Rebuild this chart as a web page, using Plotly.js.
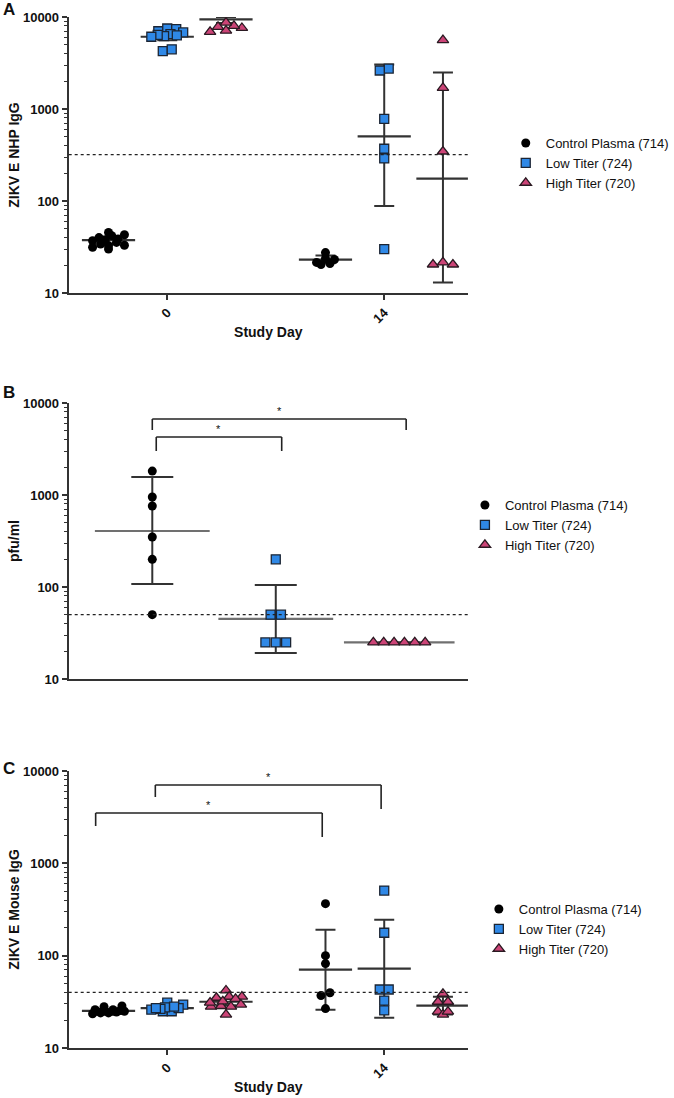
<!DOCTYPE html>
<html>
<head>
<meta charset="utf-8">
<script src="https://cdn.plot.ly/plotly-3.0.1.min.js"></script>
<style>html,body{margin:0;padding:0;background:#fff;}#chart{width:674px;height:1098px;}</style>
</head>
<body>
<div id="chart"></div>
<script>
// ---------------- DATA ----------------
const days = [0, 14];
const groupNames = ['Control Plasma (714)', 'Low Titer (724)', 'High Titer (720)'];

// Panel A: ZIKV E NHP IgG
const nhpControl_d0 = [43, 40, 38.6, 42, 45.5, 37.7, 35.5, 32.7, 34, 37, 31.4, 33, 30];
const nhpLow_d0 = [7000, 7500, 7400, 6800, 6500, 6300, 6200, 6400, 6100, 4250, 4450];
const nhpHigh_d0 = [7600, 8000, 6900, 7100, 8700, 7800];
const nhpControl_d14 = [27.5, 23.7, 23.1, 21.5, 20.9, 20.4];
const nhpLow_d14 = [2750, 2620, 780, 370, 290, 30];
const nhpHigh_d14 = [5600, 1700, 345, 21.5, 20.4, 20.4];
const nhpMean_d0 = [37.5, 6100, 9400];
const nhpLo_d0 = [34, 5600, 8600];
const nhpHi_d0 = [41, 6600, 10000];
const nhpMean_d14 = [23, 505, 175];
const nhpLo_d14 = [21, 88, 13];
const nhpHi_d14 = [25.5, 3050, 2490];
const nhpCutoff = 320;

// Panel B: pfu/ml
const pfuControl = [1820, 950, 760, 350, 200, 50];
const pfuLow = [200, 50, 50, 25, 25, 25];
const pfuHigh = [25, 25, 25, 25, 25, 25];
const pfuMean = [406, 45, 25];
const pfuLo = [108, 19.2, 25];
const pfuHi = [1570, 105, 25];
const pfuCutoff = 50;

// Panel C: ZIKV E Mouse IgG
const mouseControl_d0 = [25, 24.5, 26, 28, 25, 24, 28.5, 26, 25, 24, 23.5, 25.5, 25];
const mouseLow_d0 = [27, 29.5, 31, 25, 25, 27, 27.5, 26, 28, 26.5, 27];
const mouseHigh_d0 = [42, 35, 36, 36, 34, 29.5, 28, 31, 28, 28.5, 23, 32];
const mouseControl_d14 = [366, 100, 82, 39.7, 37, 26.7];
const mouseLow_d14 = [507, 177, 43, 43, 32.6, 25.5];
const mouseHigh_d14 = [31.7, 31.7, 38.7, 24.8, 23, 24.8];
const mouseMean_d0 = [25.3, 27, 31.7];
const mouseLo_d0 = [24, 25.5, 29];
const mouseHi_d0 = [26.5, 28.5, 34];
const mouseMean_d14 = [70.6, 72.3, 28.7];
const mouseLo_d14 = [26, 21.3, 23];
const mouseHi_d14 = [191, 245, 36];
const mouseCutoff = 40;

// significance brackets: [x left, x right, bar level, left leg end, right leg end]
const bracketsB = [[0, 2.056, 6700, 5090, 5090], [0.032, 1.048, 4270, 3000, 3000]];
const bracketsC = [[-0.77, 13.8, 7050, 5230, 3870], [-4.62, 10.0, 3510, 2540, 1930]];
const sigLabel = '*';

// ---------------- STYLE / LAYOUT HELPERS ----------------
const FONT = 'Liberation Sans, Arial, sans-serif';
const AXC = '#333333';
const xDom = [69 / 674, 470 / 674];
const dayRange = [-6.36, 19.4];
const groupRange = [-0.677, 2.556];
const pxPerDay = 218 / 14;
const pxPerGroup = 124;
const pxPerDecade = 92;
const groupOffsetDays = 3.79;

const styles = [
  {symbol: 'circle', size: 9, color: '#000000', lc: '#000000'},
  {symbol: 'square', size: 9, color: '#2F88E6', lc: '#1b2433'},
  {symbol: 'triangle-up', size: 10, color: '#CC4477', lc: '#2a1a22'}
];

// row-binned scatter spread (points with similar values share a row, centred on the group)
function swarm(values, center, pxPerUnit, d, maxW) {
  const binH = d * 0.8;
  const rows = {};
  values.forEach((v, i) => {
    const key = Math.floor(Math.log10(v) * pxPerDecade / binH);
    (rows[key] = rows[key] || []).push(i);
  });
  const out = new Array(values.length);
  Object.values(rows).forEach(r => {
    r.sort((a, b) => values[a] - values[b]);
    const sp = r.length > 1 ? Math.min(d, maxW / (r.length - 1)) : 0;
    const order = r.map((i, j) => j).sort((a, b) => (a % 2) - (b % 2));
    r.forEach((i, j) => { out[i] = center + (order[j] - (r.length - 1) / 2) * sp / pxPerUnit; });
  });
  return out;
}

const traces = [];
function addSummary(xs, mean, lo, hi, xa, ya, lineSize, cap) {
  traces.push({
    type: 'scatter', mode: 'markers', x: xs, y: mean, xaxis: xa, yaxis: ya, showlegend: false, hoverinfo: 'skip',
    marker: {symbol: 'line-ew-open', size: lineSize, color: AXC, line: {width: 2.2, color: AXC}},
    error_y: {type: 'data', symmetric: false, array: hi.map((h, i) => h - mean[i]), arrayminus: lo.map((l, i) => mean[i] - l),
              color: AXC, thickness: 2, width: cap}
  });
}
function addPoints(g, xs, ys, xa, ya, legend) {
  const s = styles[g];
  traces.push({
    type: 'scatter', mode: 'markers', x: xs, y: ys, xaxis: xa, yaxis: ya, name: groupNames[g], legend: legend,
    marker: {symbol: s.symbol, size: s.size, color: s.color, line: {width: g === 0 ? 0 : 1.3, color: s.lc}}
  });
}

const nhpD0 = [nhpControl_d0, nhpLow_d0, nhpHigh_d0];
const nhpD14 = [nhpControl_d14, nhpLow_d14, nhpHigh_d14];
const mouseD0 = [mouseControl_d0, mouseLow_d0, mouseHigh_d0];
const mouseD14 = [mouseControl_d14, mouseLow_d14, mouseHigh_d14];
const gx = (day, g) => day + (g - 1) * groupOffsetDays;

function dayPanel(d0, d14, m0, l0, h0, m14, l14, h14, xa, ya, legend) {
  const sx = [], sm = [], sl = [], sh = [];
  [0, 1, 2].forEach(g => { sx.push(gx(days[0], g)); sm.push(m0[g]); sl.push(l0[g]); sh.push(h0[g]); });
  [0, 1, 2].forEach(g => { sx.push(gx(days[1], g)); sm.push(m14[g]); sl.push(l14[g]); sh.push(h14[g]); });
  addSummary(sx, sm, sl, sh, xa, ya, 38, 10);
  [0, 1, 2].forEach(g => {
    const x0 = swarm(d0[g], gx(days[0], g), pxPerDay, styles[g].size, 32);
    const x1 = swarm(d14[g], gx(days[1], g), pxPerDay, styles[g].size, 32);
    addPoints(g, x0.concat(x1), d0[g].concat(d14[g]), xa, ya, legend);
  });
}
dayPanel(nhpD0, nhpD14, nhpMean_d0, nhpLo_d0, nhpHi_d0, nhpMean_d14, nhpLo_d14, nhpHi_d14, 'x', 'y', 'legend');

// Panel B
addSummary([0, 1, 2], pfuMean, pfuLo, pfuHi, 'x2', 'y2', [82, 82, 79], 21);
[pfuControl, pfuLow, pfuHigh].forEach((vals, g) => {
  addPoints(g, swarm(vals, g, pxPerGroup, 10.4, 60), vals, 'x2', 'y2', 'legend2');
});

// Panel C
dayPanel(mouseD0, mouseD14, mouseMean_d0, mouseLo_d0, mouseHi_d0, mouseMean_d14, mouseLo_d14, mouseHi_d14, 'x3', 'y3', 'legend3');

// ---------------- AXES ----------------
const minorVals = [];
[10, 100, 1000].forEach(b => { for (let k = 2; k <= 9; k++) minorVals.push(b * k); });
function yAxis(dom, title) {
  return {
    domain: dom, type: 'log', range: [1, 4], tickvals: [10, 100, 1000, 10000], ticktext: ['10', '100', '1000', '10000'],
    ticks: 'outside', ticklen: 5, tickwidth: 2, tickcolor: AXC, showline: true, linecolor: AXC, linewidth: 2,
    showgrid: false, zeroline: false, tickfont: {family: FONT, size: 13, weight: 'bold', color: '#111'},
    minor: {tickvals: minorVals, ticks: 'outside', ticklen: 3, tickwidth: 1, tickcolor: AXC, showgrid: false},
    title: {text: title, font: {family: FONT, size: 14, weight: 'bold', color: '#111'}, standoff: 0},
    fixedrange: true
  };
}
function xDayAxis(anchor) {
  return {
    domain: xDom, anchor: anchor, range: dayRange, tickvals: days, ticktext: days.map(String), tickangle: -45,
    ticks: 'outside', ticklen: 5, tickwidth: 2, tickcolor: AXC, showline: true, linecolor: AXC, linewidth: 2,
    showgrid: false, zeroline: false, tickfont: {family: FONT, size: 13, weight: 'bold', color: '#111'},
    title: {text: 'Study Day', font: {family: FONT, size: 14, weight: 'bold', color: '#111'}, standoff: 2},
    fixedrange: true
  };
}

const shapes = [];
const annotations = [];
function cutoff(val, xr, yr) {
  shapes.push({type: 'line', xref: xr + ' domain', yref: yr, x0: 0, x1: 1, y0: val, y1: val,
               line: {color: '#222', width: 1.3, dash: 'dot'}});
}
cutoff(nhpCutoff, 'x', 'y');
cutoff(pfuCutoff, 'x2', 'y2');
cutoff(mouseCutoff, 'x3', 'y3');

function bracket(b, xr, yr) {
  const ln = {color: '#222', width: 1.6};
  shapes.push({type: 'line', xref: xr, yref: yr, x0: b[0], x1: b[1], y0: b[2], y1: b[2], line: ln});
  shapes.push({type: 'line', xref: xr, yref: yr, x0: b[0], x1: b[0], y0: b[2], y1: b[3], line: ln});
  shapes.push({type: 'line', xref: xr, yref: yr, x0: b[1], x1: b[1], y0: b[2], y1: b[4], line: ln});
  annotations.push({xref: xr, yref: yr, x: (b[0] + b[1]) / 2, y: Math.log10(b[2]), text: sigLabel, showarrow: false,
                    yanchor: 'bottom', yshift: 0, font: {family: FONT, size: 11, color: '#111'}});
}
bracketsB.forEach(b => bracket(b, 'x2', 'y2'));
bracketsC.forEach(b => bracket(b, 'x3', 'y3'));

[['A', 10], ['B', 392], ['C', 768]].forEach(([t, y]) => {
  annotations.push({xref: 'paper', yref: 'paper', x: 9 / 674, y: 1 - y / 1098, text: t, showarrow: false,
                    xanchor: 'center', yanchor: 'middle', font: {family: FONT, size: 17, weight: 'bold', color: '#111'}});
});

function legendAt(left, top) {
  return {x: left / 674, y: 1 - top / 1098, xanchor: 'left', yanchor: 'top', bgcolor: 'rgba(0,0,0,0)',
          font: {family: FONT, size: 13, color: '#111'}, tracegroupgap: 0, itemclick: false};
}

const layout = {
  width: 674, height: 1098, margin: {l: 0, r: 0, t: 0, b: 0}, paper_bgcolor: '#fff', plot_bgcolor: '#fff',
  showlegend: true,
  xaxis: xDayAxis('y'),
  yaxis: yAxis([1 - 293 / 1098, 1 - 17 / 1098], 'ZIKV E NHP IgG'),
  xaxis2: {domain: xDom, anchor: 'y2', range: groupRange, showticklabels: false, ticks: '', showline: true,
           linecolor: AXC, linewidth: 2, showgrid: false, zeroline: false, fixedrange: true},
  yaxis2: yAxis([1 - 679 / 1098, 1 - 403 / 1098], 'pfu/ml'),
  xaxis3: xDayAxis('y3'),
  yaxis3: yAxis([1 - 1048 / 1098, 1 - 771 / 1098], 'ZIKV E Mouse IgG'),
  legend: legendAt(508, 128),
  legend2: legendAt(467, 490),
  legend3: legendAt(481, 894),
  shapes: shapes, annotations: annotations
};
layout.yaxis.anchor = 'x';
layout.yaxis2.anchor = 'x2';
layout.yaxis3.anchor = 'x3';

Plotly.newPlot('chart', traces, layout, {staticPlot: true, displayModeBar: false});
</script>
</body>
</html>
